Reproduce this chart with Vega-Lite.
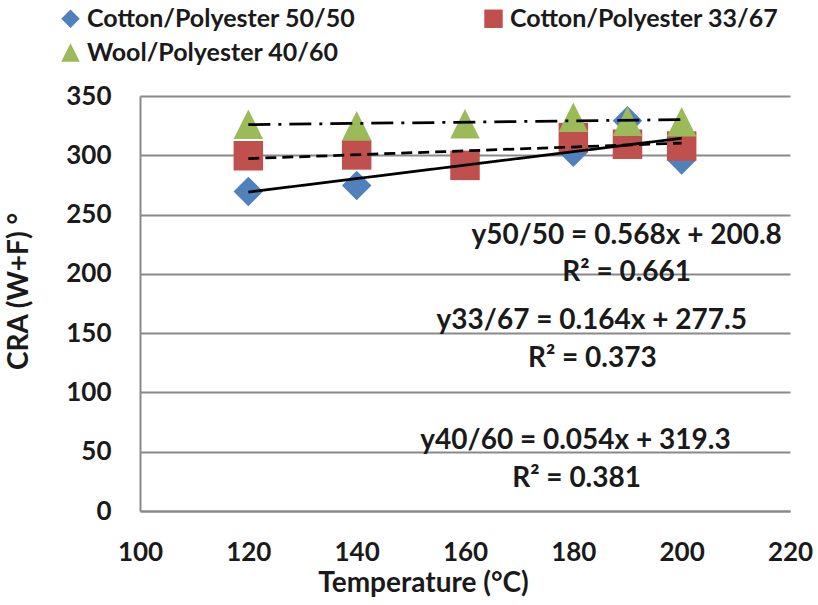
{
  "$schema": "https://vega.github.io/schema/vega-lite/v6.json",
  "description": "CRA (W+F) against temperature for three fabric blends, with linear trendlines.",
  "width": 650,
  "height": 415,
  "autosize": {"type": "none"},
  "padding": {"left": 140, "top": 96, "right": 28, "bottom": 94},
  "datasets": {
    "points": [
      {"series": "Cotton/Polyester 50/50", "temperature": 120, "cra": 269.5},
      {"series": "Cotton/Polyester 50/50", "temperature": 140, "cra": 274.5},
      {"series": "Cotton/Polyester 50/50", "temperature": 180, "cra": 302.5},
      {"series": "Cotton/Polyester 50/50", "temperature": 190, "cra": 329.2},
      {"series": "Cotton/Polyester 50/50", "temperature": 200, "cra": 296},
      {"series": "Cotton/Polyester 33/67", "temperature": 120, "cra": 299.6},
      {"series": "Cotton/Polyester 33/67", "temperature": 140, "cra": 300.3},
      {"series": "Cotton/Polyester 33/67", "temperature": 160, "cra": 291.5},
      {"series": "Cotton/Polyester 33/67", "temperature": 180, "cra": 314.9},
      {"series": "Cotton/Polyester 33/67", "temperature": 190, "cra": 309.3},
      {"series": "Cotton/Polyester 33/67", "temperature": 200, "cra": 307.8},
      {"series": "Wool/Polyester 40/60", "temperature": 120, "cra": 326.2},
      {"series": "Wool/Polyester 40/60", "temperature": 140, "cra": 324.9},
      {"series": "Wool/Polyester 40/60", "temperature": 160, "cra": 326.6},
      {"series": "Wool/Polyester 40/60", "temperature": 180, "cra": 332.1},
      {"series": "Wool/Polyester 40/60", "temperature": 190, "cra": 328.8},
      {"series": "Wool/Polyester 40/60", "temperature": 200, "cra": 328.2}
    ],
    "trends": [
      {"series": "Cotton/Polyester 50/50", "temperature": 120, "cra": 269},
      {"series": "Cotton/Polyester 50/50", "temperature": 200, "cra": 314.4},
      {"series": "Cotton/Polyester 33/67", "temperature": 120, "cra": 297.2},
      {"series": "Cotton/Polyester 33/67", "temperature": 200, "cra": 310.3},
      {"series": "Wool/Polyester 40/60", "temperature": 120, "cra": 325.8},
      {"series": "Wool/Polyester 40/60", "temperature": 200, "cra": 330.1}
    ],
    "notes": [
      {"label": "y50/50 = 0.568x + 200.8", "temperature": 189.85, "cra": 225.4},
      {"label": "R² = 0.661", "temperature": 189.85, "cra": 193.8},
      {"label": "y33/67 = 0.164x + 277.5", "temperature": 183.4, "cra": 153.1},
      {"label": "R² = 0.373", "temperature": 183.5, "cra": 121.7},
      {"label": "y40/60 = 0.054x + 319.3", "temperature": 180.4, "cra": 52.5},
      {"label": "R² = 0.381", "temperature": 180.6, "cra": 20.5}
    ]
  },
  "encoding": {
    "x": {
      "field": "temperature",
      "type": "quantitative",
      "title": "Temperature (°C)",
      "scale": {"domain": [100, 220], "nice": false, "zero": false},
      "axis": {
        "values": [100, 120, 140, 160, 180, 200, 220],
        "grid": false,
        "labelPadding": 28,
        "titleX": 283,
        "titlePadding": 4
      }
    },
    "y": {
      "field": "cra",
      "type": "quantitative",
      "title": "CRA (W+F) °",
      "scale": {"domain": [0, 350], "nice": false},
      "axis": {
        "values": [0, 50, 100, 150, 200, 250, 300, 350],
        "grid": true,
        "labelPadding": 29,
        "titleY": 195,
        "titlePadding": 32
      }
    }
  },
  "layer": [
    {
      "data": {"name": "points"},
      "mark": {"type": "point", "filled": true, "opacity": 1, "size": 870, "strokeWidth": 0},
      "encoding": {
        "color": {
          "field": "series",
          "type": "nominal",
          "scale": {
            "domain": ["Cotton/Polyester 50/50", "Cotton/Polyester 33/67", "Wool/Polyester 40/60"],
            "range": ["#4F81BD", "#C0504D", "#9BBB59"]
          },
          "legend": {"title": null}
        },
        "shape": {
          "field": "series",
          "type": "nominal",
          "scale": {
            "domain": ["Cotton/Polyester 50/50", "Cotton/Polyester 33/67", "Wool/Polyester 40/60"],
            "range": ["diamond", "square", "M0,-1L1,1L-1,1Z"]
          },
          "legend": {"title": null}
        }
      }
    },
    {
      "data": {"name": "trends"},
      "mark": {"type": "line", "color": "#000000", "strokeWidth": 2.75},
      "encoding": {
        "detail": {"field": "series", "type": "nominal"},
        "strokeDash": {
          "field": "series",
          "type": "nominal",
          "scale": {
            "domain": ["Cotton/Polyester 50/50", "Cotton/Polyester 33/67", "Wool/Polyester 40/60"],
            "range": [[1, 0], [11, 6], [22, 8, 3, 8]]
          },
          "legend": null
        }
      }
    },
    {
      "data": {"name": "notes"},
      "mark": {
        "type": "text",
        "font": "Lato",
        "fontWeight": "bold",
        "fontSize": 28,
        "align": "center",
        "baseline": "alphabetic",
        "color": "#1a1a1a"
      },
      "encoding": {
        "text": {"field": "label", "type": "nominal"}
      }
    }
  ],
  "config": {
    "background": "white",
    "view": {"stroke": null},
    "axis": {
      "ticks": false,
      "domainColor": "#898989",
      "domainWidth": 2,
      "gridColor": "#898989",
      "gridWidth": 2,
      "gridOpacity": 1,
      "labelFont": "Lato",
      "labelFontSize": 26,
      "labelFontWeight": "bold",
      "labelColor": "#1a1a1a",
      "labelFlush": false,
      "labelOverlap": false,
      "titleFont": "Lato",
      "titleFontSize": 28,
      "titleFontWeight": "bold",
      "titleColor": "#1a1a1a"
    },
    "legend": {
      "orient": "none",
      "legendX": -82,
      "legendY": -90,
      "direction": "horizontal",
      "columns": 2,
      "columnPadding": 125,
      "rowPadding": 8,
      "labelFont": "Lato",
      "labelFontSize": 25,
      "labelFontWeight": "bold",
      "labelColor": "#1a1a1a",
      "labelLimit": 400,
      "labelOffset": 4,
      "symbolSize": 340,
      "symbolStrokeWidth": 0,
      "symbolOpacity": 1
    }
  }
}
